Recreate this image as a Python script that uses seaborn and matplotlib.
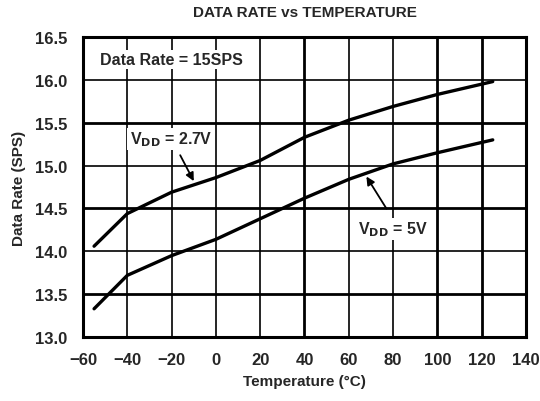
import matplotlib
matplotlib.use('Agg')
import matplotlib.pyplot as plt
import pandas as pd
import seaborn as sns

temperature = [-55, -40, -20, 0, 20, 40, 60, 80, 100, 125]
rate_27v = [14.06, 14.44, 14.69, 14.86, 15.06, 15.33, 15.53, 15.69, 15.83, 15.98]
rate_5v = [13.33, 13.72, 13.95, 14.14, 14.38, 14.62, 14.84, 15.02, 15.15, 15.30]

x_ticks = [-60, -40, -20, 0, 20, 40, 60, 80, 100, 120, 140]
y_ticks = [13.0, 13.5, 14.0, 14.5, 15.0, 15.5, 16.0, 16.5]

sns.set_style('white')
plt.rcParams['font.family'] = ['Liberation Sans', 'DejaVu Sans']
plt.rcParams['font.weight'] = 'bold'

df = pd.DataFrame({
    'Temperature': temperature * 2,
    'Rate': rate_27v + rate_5v,
    'Supply': ['2.7V'] * len(temperature) + ['5V'] * len(temperature),
})

fig = plt.figure(figsize=(5.4, 4.02), dpi=100)
ax = fig.add_axes([0.1537, 0.159, 0.8203, 0.7465])

# grid first so the curves sit on top
thick_x = [40, 100, 120]
thick_y = [13.5, 14.5, 15.5]
for t in x_ticks[1:-1]:
    ax.axvline(t, color='black', lw=2.0 if t in thick_x else 1.2, zorder=1)
for v in y_ticks[1:-1]:
    ax.axhline(v, color='black', lw=2.0 if v in thick_y else 1.2, zorder=1)

sns.lineplot(data=df, x='Temperature', y='Rate', hue='Supply',
             palette=['black', 'black'], lw=2.4, legend=False, ax=ax, zorder=3)

ax.set_xlim(-60, 140)
ax.set_ylim(13.0, 16.5)
ax.set_xticks(x_ticks)
ax.set_yticks(y_ticks)
ax.set_xticklabels([str(t).replace('-', '\u2212') for t in x_ticks])
ax.set_yticklabels([f'{v:.1f}' for v in y_ticks])
ax.tick_params(length=0, labelsize=12, pad=11)
for lab in ax.get_xticklabels() + ax.get_yticklabels():
    lab.set_fontweight('bold')
for sp in ax.spines.values():
    sp.set_color('black')
    sp.set_linewidth(2.2)

ax.set_xlabel('Temperature (°C)', fontsize=11, fontweight='bold', labelpad=5)
ax.set_ylabel('Data Rate (SPS)', fontsize=11, fontweight='bold', labelpad=7)
fig.suptitle('DATA RATE vs TEMPERATURE', x=0.564, y=0.985, fontsize=11,
             fontweight='bold')

box = dict(facecolor='white', edgecolor='none', pad=1.5)
ax.text(-52.5, 16.24, 'Data Rate = 15SPS', fontsize=11.5, fontweight='bold',
        va='center', ha='left', bbox=box, zorder=4)
ax.text(-39, 15.31, r'V$_{\mathbf{DD}}$ = 2.7V', fontsize=11.5, fontweight='bold',
        va='center', ha='left', bbox=box, zorder=4)
ax.text(64, 14.26, r'V$_{\mathbf{DD}}$ = 5V', fontsize=11.5, fontweight='bold',
        va='center', ha='left', bbox=box, zorder=4)

arrow = dict(arrowstyle='-|>', color='black', lw=1.3, mutation_scale=12)
ax.annotate('', xy=(-9.4, 14.79), xytext=(-16.7, 15.15), arrowprops=arrow, zorder=5)
ax.annotate('', xy=(67.3, 14.90), xytext=(77.7, 14.47), arrowprops=arrow, zorder=5)

fig.savefig('out.png', dpi=100)
